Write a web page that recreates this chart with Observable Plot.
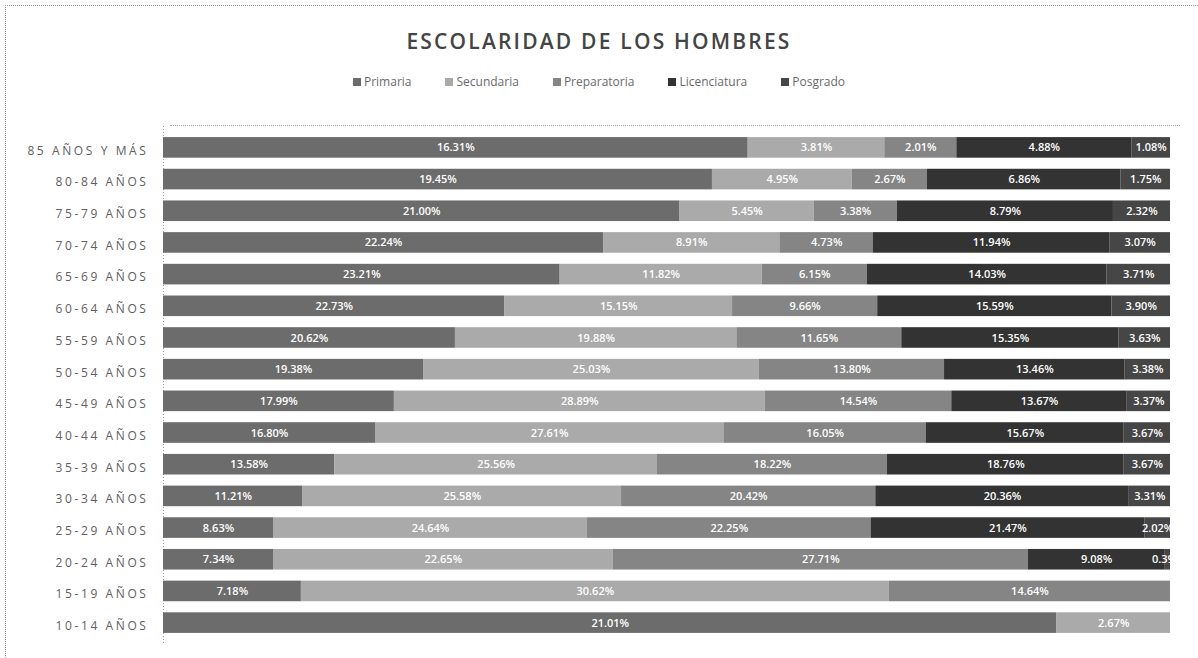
<!DOCTYPE html>
<html>
<head>
<meta charset="utf-8">
<script src="https://cdn.jsdelivr.net/npm/d3@7"></script>
<script src="https://cdn.jsdelivr.net/npm/@observablehq/plot@0.6"></script>
<style>
  html, body { margin: 0; padding: 0; background: #fff; }
  #frame { position: absolute; left: 5px; top: 5px; width: 1200px; height: 660px;
           border-left: 1px dotted #999; border-top: 1px dotted #999; }
  #wall { position: absolute; left: 170px; top: 125px; width: 1010px; height: 0;
          border-top: 1px dotted #aaa; }
  #wrap { position: absolute; left: 0; top: 0; width: 1198px; height: 658px; font-family: "Open Sans", "Noto Sans", sans-serif; }
  #title { position: absolute; top: 27px; left: 0; width: 1198px; text-align: center;
           font-size: 21px; font-weight: 600; letter-spacing: 2.2px; color: #444; }
  #legend { position: absolute; top: 73px; left: 0; width: 1198px; text-align: center;
            font-size: 12px; color: #6a6a6a; }
  #legend span.item { margin: 0 17px; white-space: nowrap; }
  #legend span.sw { display: inline-block; width: 8px; height: 8px; margin-right: 3px; vertical-align: 0px; }
  #chart { position: absolute; top: 100px; left: 0; }
</style>
</head>
<body>
<div id="frame"></div>
<div id="wall"></div>
<div id="wrap">
  <div id="title">ESCOLARIDAD DE LOS HOMBRES</div>
  <div id="legend"></div>
  <div id="chart"></div>
</div>
<script>
const ages = ["85 AÑOS Y MÁS","80-84 AÑOS","75-79 AÑOS","70-74 AÑOS","65-69 AÑOS","60-64 AÑOS","55-59 AÑOS","50-54 AÑOS","45-49 AÑOS","40-44 AÑOS","35-39 AÑOS","30-34 AÑOS","25-29 AÑOS","20-24 AÑOS","15-19 AÑOS","10-14 AÑOS"];
const series = ["Primaria","Secundaria","Preparatoria","Licenciatura","Posgrado"];
const primaria     = [16.31,19.45,21.00,22.24,23.21,22.73,20.62,19.38,17.99,16.80,13.58,11.21, 8.63, 7.34, 7.18,21.01];
const secundaria   = [ 3.81, 4.95, 5.45, 8.91,11.82,15.15,19.88,25.03,28.89,27.61,25.56,25.58,24.64,22.65,30.62, 2.67];
const preparatoria = [ 2.01, 2.67, 3.38, 4.73, 6.15, 9.66,11.65,13.80,14.54,16.05,18.22,20.42,22.25,27.71,14.64, null];
const licenciatura = [ 4.88, 6.86, 8.79,11.94,14.03,15.59,15.35,13.46,13.67,15.67,18.76,20.36,21.47, 9.08, null, null];
const posgrado     = [ 1.08, 1.75, 2.32, 3.07, 3.71, 3.90, 3.63, 3.38, 3.37, 3.67, 3.67, 3.31, 2.02, 0.39, null, null];
const colors = ["#6c6c6c","#aaaaaa","#858585","#333333","#464646"];

const cols = [primaria, secundaria, preparatoria, licenciatura, posgrado];
const data = [];
ages.forEach((a, i) => {
  series.forEach((s, j) => {
    const v = cols[j][i];
    if (v != null) data.push({age: a, serie: s, value: v});
  });
});

const legend = document.getElementById("legend");
series.forEach((s, j) => {
  const it = document.createElement("span");
  it.className = "item";
  it.innerHTML = `<span class="sw" style="background:${colors[j]}"></span>${s}`;
  legend.appendChild(it);
});

const stackOpts = {x: "value", y: "age", z: "serie", offset: "normalize", order: series};

const chart = Plot.plot({
  width: 1198,
  height: 558,
  marginTop: 26,
  marginBottom: 14,
  marginLeft: 163,
  marginRight: 28,
  style: {fontFamily: "'Open Sans', 'Noto Sans', sans-serif", background: "transparent"},
  x: {axis: null, domain: [0, 1]},
  y: {domain: ages, padding: 0.35, round: false, label: null, axis: null},
  color: {domain: series, range: colors},
  marks: [
    Plot.ruleX([0], {stroke: "#999", strokeDasharray: "1,2"}),
    Plot.barX(data, Plot.stackX({...stackOpts, fill: "serie"})),
    Plot.text(data, Plot.stackX({
      ...stackOpts,
      text: d => d.value.toFixed(2) + "%",
      fill: "white",
      fontSize: 11,
      fontWeight: 600
    })),
    Plot.axisY({tickSize: 0, tickPadding: 15, fontSize: 12, fill: "#606060", dy: 3, label: null})
  ]
});
chart.querySelectorAll("g[aria-label='y-axis tick label'] text").forEach(t => t.setAttribute("letter-spacing", "2.6"));
document.getElementById("chart").appendChild(chart);
</script>
</body>
</html>
